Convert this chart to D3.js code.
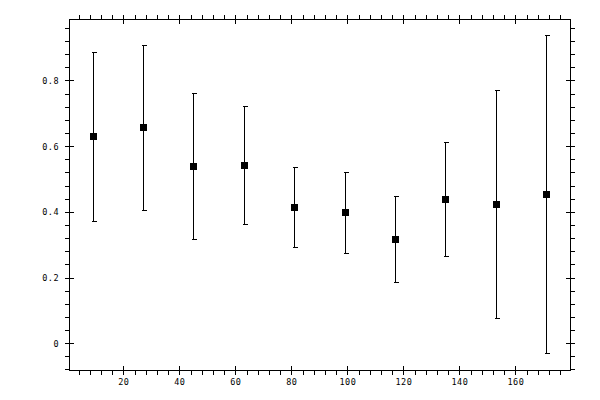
<!DOCTYPE html>
<html>
<head>
<meta charset="utf-8">
<script src="https://cdn.jsdelivr.net/npm/d3@7"></script>
<style>
  body { margin: 0; background: #fff; }
  svg { display: block; }
  .tick-label { font-family: "DejaVu Sans Mono", monospace; font-size: 8.5px; fill: #000; letter-spacing: 0.5px; }
</style>
</head>
<body>
<svg width="600" height="400"></svg>
<script>
// data
var xs    = [9, 27, 45, 63, 81, 99, 117, 135, 153, 171];
var means = [0.630, 0.657, 0.539, 0.542, 0.414, 0.398, 0.316, 0.438, 0.423, 0.454];
var highs = [0.886, 0.907, 0.762, 0.721, 0.535, 0.520, 0.447, 0.612, 0.770, 0.937];
var lows  = [0.371, 0.405, 0.316, 0.362, 0.292, 0.274, 0.185, 0.265, 0.076, -0.031];

var xMajor = [20, 40, 60, 80, 100, 120, 140, 160];
var yMajor = [0, 0.2, 0.4, 0.6, 0.8];

var svg = d3.select("svg");
var pL = 69, pR = 570, pT = 19, pB = 370;

var x = d3.scaleLinear().domain([0.6, 179.5]).range([pL, pR]);
var y = d3.scaleLinear().domain([-0.0816, 0.987]).range([pB, pT]);

var xMinor = d3.range(4, 180, 4).filter(function (v) { return v % 20 !== 0; });
var yMinor = d3.range(-0.08, 0.99, 0.04)
    .map(function (v) { return Math.round(v * 100) / 100; })
    .filter(function (v) { return Math.abs(v * 5 - Math.round(v * 5)) > 1e-6; });

var g = svg.append("g").attr("shape-rendering", "crispEdges").attr("stroke", "#000");

// frame
g.append("rect")
    .attr("x", pL + 0.5).attr("y", pT + 0.5)
    .attr("width", pR - pL).attr("height", pB - pT)
    .attr("fill", "none");

function px(v) { return Math.round(x(v)) + 0.5; }
function py(v) { return Math.round(y(v)) + 0.5; }

// x ticks, bottom and top
xMajor.forEach(function (v) {
    g.append("line").attr("x1", px(v)).attr("x2", px(v)).attr("y1", pB - 4).attr("y2", pB + 5);
    g.append("line").attr("x1", px(v)).attr("x2", px(v)).attr("y1", pT - 4).attr("y2", pT + 5);
});
xMinor.forEach(function (v) {
    g.append("line").attr("x1", px(v)).attr("x2", px(v)).attr("y1", pB).attr("y2", pB + 5);
    g.append("line").attr("x1", px(v)).attr("x2", px(v)).attr("y1", pT - 4).attr("y2", pT);
});

// y ticks, left and right
yMajor.forEach(function (v) {
    g.append("line").attr("y1", py(v)).attr("y2", py(v)).attr("x1", pL - 4).attr("x2", pL + 5);
    g.append("line").attr("y1", py(v)).attr("y2", py(v)).attr("x1", pR - 4).attr("x2", pR + 5);
});
yMinor.forEach(function (v) {
    g.append("line").attr("y1", py(v)).attr("y2", py(v)).attr("x1", pL - 4).attr("x2", pL);
    g.append("line").attr("y1", py(v)).attr("y2", py(v)).attr("x1", pR).attr("x2", pR + 5);
});

// labels
svg.selectAll(".xl").data(xMajor).enter().append("text")
    .attr("class", "tick-label")
    .attr("x", function (d) { return x(d) + 0.5; })
    .attr("y", 385)
    .attr("text-anchor", "middle")
    .text(function (d) { return d; });

svg.selectAll(".yl").data(yMajor).enter().append("text")
    .attr("class", "tick-label")
    .attr("x", 59)
    .attr("y", function (d) { return y(d) + 3.5; })
    .attr("text-anchor", "end")
    .text(function (d) { return d === 0 ? "0" : d3.format(".1f")(d); });

// error bars
var bars = g.selectAll(".err").data(xs).enter().append("g");
bars.append("line")
    .attr("x1", function (d) { return px(d); }).attr("x2", function (d) { return px(d); })
    .attr("y1", function (d, i) { return py(highs[i]); })
    .attr("y2", function (d, i) { return py(lows[i]); });
bars.append("line")
    .attr("x1", function (d) { return px(d) - 2; }).attr("x2", function (d) { return px(d) + 3; })
    .attr("y1", function (d, i) { return py(highs[i]); })
    .attr("y2", function (d, i) { return py(highs[i]); });
bars.append("line")
    .attr("x1", function (d) { return px(d) - 2; }).attr("x2", function (d) { return px(d) + 3; })
    .attr("y1", function (d, i) { return py(lows[i]); })
    .attr("y2", function (d, i) { return py(lows[i]); });

// markers
svg.selectAll(".pt").data(xs).enter().append("rect")
    .attr("shape-rendering", "crispEdges")
    .attr("x", function (d) { return Math.round(x(d)) - 3; })
    .attr("y", function (d, i) { return Math.round(y(means[i])) - 3; })
    .attr("width", 7).attr("height", 7)
    .attr("fill", "#000");
</script>
</body>
</html>
